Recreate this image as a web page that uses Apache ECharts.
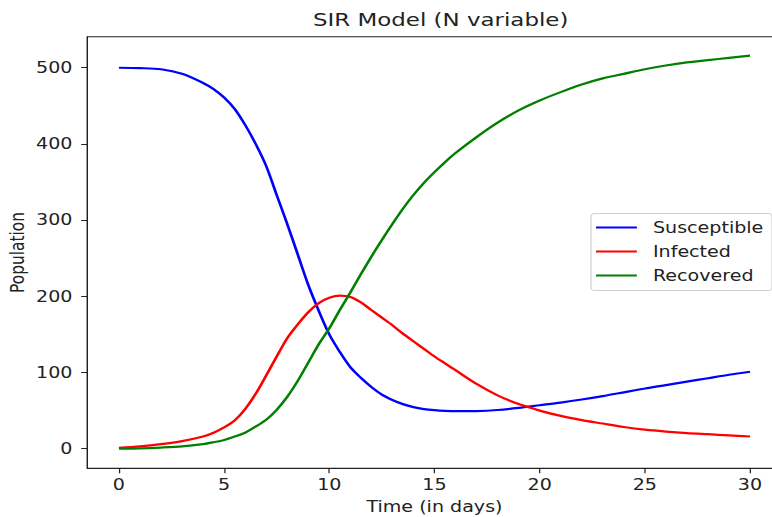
<!DOCTYPE html>
<html>
<head>
<meta charset="utf-8">
<title>SIR Model (N variable)</title>
<script src="https://cdn.jsdelivr.net/npm/echarts@6/dist/echarts.min.js"></script>
<style>
  html, body { margin: 0; padding: 0; overflow: hidden; background: #fff; }
  /* the source figure is stretched sideways, so draw narrower and stretch */
  #main { position: absolute; left: 0; top: 0; width: 623px; height: 517px;
          transform: scaleX(1.2392); transform-origin: 0 0; }
</style>
</head>
<body>
<div id="main"></div>
<script>
// time in days (half days where the curves move fast)
const days = [0, 1, 2, 3, 4,
              4.5, 5, 5.5, 6, 6.5, 7, 7.5, 8, 8.5, 9, 9.5, 10, 10.5, 11, 11.5, 12,
              12.5, 13, 13.5, 14, 14.5, 15, 15.5, 16,
              17, 18, 19, 20, 21, 22, 23, 24, 25, 26, 27, 28, 29, 30];
const susceptible = [500, 499.5, 498, 492, 480,
                     472, 461, 446, 425, 400, 371, 333, 295, 255, 215, 181, 150, 127, 107, 93, 81,
                     71, 64, 58.5, 54.6, 52, 50.5, 49.6, 49.2,
                     49.4, 50.8, 53.5, 57, 60.5, 64.5, 69, 74, 79, 83.5, 88, 92.5, 97, 101];
const infected = [1, 3, 6, 10, 16,
                  21, 28, 37, 52, 72, 96, 121, 145, 163, 179, 191, 198, 201, 199, 192, 182,
                  172, 162, 151, 141, 131, 121, 112, 103,
                  85, 70, 58.5, 50, 43, 37.5, 33, 28.5, 25, 22.5, 20.5, 19, 17.5, 16];
const recovered = [0, 0.5, 1.5, 3, 6,
                   8.5, 11.5, 16, 21, 29, 38, 51, 68, 89, 113, 137, 158, 182, 205, 229, 252,
                   274, 295, 315, 333, 349, 363, 376, 388,
                   409, 428, 444, 457, 468, 478, 486, 492, 498, 503, 507, 510, 513, 516];
const xTicks = [0, 5, 10, 15, 20, 25, 30];
const yTicks = [0, 100, 200, 300, 400, 500];

const font = 'DejaVu Sans';
const pair = vals => days.map((d, i) => [d, vals[i]]);

const chart = echarts.init(document.getElementById('main'), null, { renderer: 'svg' });

function lineSeries(name, color, vals) {
    return {
        name: name,
        type: 'line',
        data: pair(vals),
        showSymbol: false,
        smooth: 0.3,
        lineStyle: { color: color, width: 2.2 },
        itemStyle: { color: color }
    };
}

const option = {
    animation: false,
    textStyle: { fontFamily: font },
    title: {
        text: 'SIR Model (N variable)',
        left: 350.6,
        textAlign: 'center',
        top: 5,
        textStyle: { fontFamily: font, fontSize: 18.5, fontWeight: 'normal', color: '#222' }
    },
    grid: {
        left: 70.5, right: -7.7, top: 36.7, bottom: 48.7,
        outerBoundsMode: 'none',
        containLabel: false,
        show: true, borderColor: '#222', borderWidth: 1, backgroundColor: 'transparent'
    },
    legend: {
        orient: 'vertical',
        right: 0,
        top: 213.5,
        icon: 'rect',
        itemWidth: 33,
        itemHeight: 2,
        itemGap: 6,
        padding: [5, 7, 6, 4],
        backgroundColor: '#fff',
        borderColor: '#d0d0d0',
        borderWidth: 1,
        borderRadius: 3,
        textStyle: { fontFamily: font, fontSize: 15.4, color: '#222', lineHeight: 18, padding: [0, 0, 0, 8] },
        data: ['Susceptible', 'Infected', 'Recovered']
    },
    xAxis: {
        type: 'value',
        min: -1.5,
        max: 31.5,
        name: 'Time (in days)',
        nameLocation: 'middle',
        nameGap: 31,
        nameMoveOverlap: false,
        nameTextStyle: { fontFamily: font, fontSize: 15.4, color: '#222' },
        axisLine: { onZero: false, lineStyle: { color: '#222', width: 1 } },
        axisTick: { length: 5, lineStyle: { color: '#222' }, customValues: xTicks },
        axisLabel: { fontFamily: font, fontSize: 15.4, color: '#222', margin: 9, customValues: xTicks },
        splitLine: { show: false }
    },
    yAxis: {
        type: 'value',
        min: -25.75,
        max: 540.75,
        name: 'Population',
        nameLocation: 'middle',
        nameGap: 49,
        nameMoveOverlap: false,
        nameTextStyle: { fontFamily: font, fontSize: 15.4, color: '#222' },
        axisLine: { show: true, onZero: false, lineStyle: { color: '#222', width: 1 } },
        axisTick: { show: true, length: 5, lineStyle: { color: '#222' }, customValues: yTicks },
        axisLabel: { fontFamily: font, fontSize: 15.4, color: '#222', margin: 12, customValues: yTicks },
        splitLine: { show: false }
    },
    series: [
        lineSeries('Susceptible', '#0000ff', susceptible),
        lineSeries('Infected', '#ff0000', infected),
        lineSeries('Recovered', '#008000', recovered)
    ]
};

chart.setOption(option);
</script>
</body>
</html>
